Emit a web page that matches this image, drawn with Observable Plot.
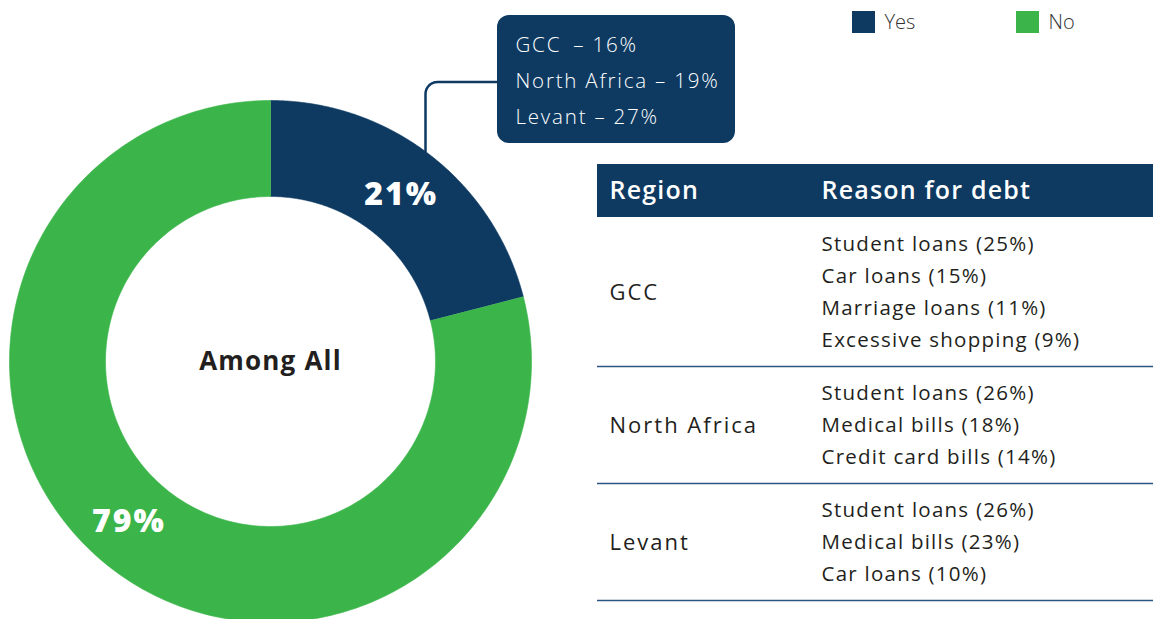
<!DOCTYPE html>
<html><head><meta charset="utf-8">
<script src="https://cdn.jsdelivr.net/npm/d3@7"></script>
<script src="https://cdn.jsdelivr.net/npm/@observablehq/plot@0.6"></script>
<style>
body{margin:0;background:#fff;}
#chart svg{display:block;}
</style>
</head><body><div id="chart"></div>
<script>
// ---- data ----
const answers = ["Yes", "No"];
const shares = [21, 79];
const centerLabel = "Among All";
const regions = ["GCC", "North Africa", "Levant"];
const regionYes = [16, 19, 27];
const gccReasons = ["Student loans", "Car loans", "Marriage loans", "Excessive shopping"];
const gccPct = [25, 15, 11, 9];
const naReasons = ["Student loans", "Medical bills", "Credit card bills"];
const naPct = [26, 18, 14];
const levantReasons = ["Student loans", "Medical bills", "Car loans"];
const levantPct = [26, 23, 10];
const tableHeaders = ["Region", "Reason for debt"];

// ---- style / layout ----
const W = 1153, H = 619;
const NAVY = "#0e3a62", GREEN = "#3bb54a";
const FONT = "'Open Sans', Lato, sans-serif";
const cx = 270, cy = 361, R = 261, r0 = 165;

// donut polygons from the pie layout
const pie = d3.pie().sort(null)(shares);
const donut = [];
pie.forEach((a, i) => {
  const n = 240;
  const outer = d3.range(n + 1).map(k => a.startAngle + (a.endAngle - a.startAngle) * k / n);
  outer.forEach(t => donut.push({answer: answers[i], x: cx + R * Math.sin(t), y: cy - R * Math.cos(t)}));
  outer.slice().reverse().forEach(t => donut.push({answer: answers[i], x: cx + r0 * Math.sin(t), y: cy - r0 * Math.cos(t)}));
});
const arcGen = d3.arc().innerRadius(r0).outerRadius(R);
const sliceLabels = pie.map((a, i) => {
  const [dx, dy] = arcGen.centroid(a);
  return {label: shares[i] + "%", x: cx + dx + (i === 1 ? -11 : 0), y: cy + dy + (i === 1 ? -8 : 2)};
});

// callout
const box = {x1: 497, x2: 735, y1: 15, y2: 143};
const callout = regions.map((g, i) => ({label: (g === "GCC" ? "GCC\u2002– " : g + " – ") + regionYes[i] + "%", x: box.x1 + 18, y: 45 + i * 36}));
const lx = 425, ly = 81.5, cr = 12;
const hitY = cy - Math.sqrt(R * R - (lx - cx) * (lx - cx));
const connector = [{x: box.x1, y: ly}];
d3.range(0, 11).forEach(k => {
  const t = Math.PI / 2 * k / 10;
  connector.push({x: lx + cr - cr * Math.sin(t), y: ly + cr - cr * Math.cos(t)});
});
connector.push({x: lx, y: hitY});

// legend
const legend = answers.map((a, i) => ({answer: a, x: 852 + i * 164, y: 22}));

// table
const tx1 = 597, tx2 = W, headTop = 164, headBot = 217;
const colX = [609, 821];
const sections = [
  {region: regions[0], names: gccReasons, pct: gccPct},
  {region: regions[1], names: naReasons, pct: naPct},
  {region: regions[2], names: levantReasons, pct: levantPct}
];
const padTop = 27, padBot = 26, lineH = 32;
const regionRows = [], reasonRows = [], seps = [];
let yCur = headBot;
sections.forEach(s => {
  const first = yCur + padTop;
  s.names.forEach((nm, j) => reasonRows.push({label: `${nm} (${s.pct[j]}%)`, y: first + j * lineH}));
  const last = first + (s.names.length - 1) * lineH;
  regionRows.push({label: s.region, y: (first + last) / 2});
  yCur = last + padBot;
  seps.push(yCur);
});
const headerCells = tableHeaders.map((h, i) => ({label: h, x: colX[i], y: (headTop + headBot) / 2}));

const spacing = {"slice-labels": 2, "center-label": 1.2, "callout": 1.8, "table-header": 1.2, "table-regions": 2, "table-reasons": 1.25};

const chart = Plot.plot({
  width: W, height: H,
  margin: 0,
  x: {domain: [0, W], range: [0, W], axis: null},
  y: {domain: [0, H], range: [0, H], axis: null},
  color: {domain: answers, range: [NAVY, GREEN]},
  style: {fontFamily: FONT, background: "#fff", overflow: "visible"},
  marks: [
    // donut
    Plot.line(donut, {x: "x", y: "y", z: "answer", fill: "answer", stroke: "answer", strokeWidth: 0.6}),
    Plot.text(sliceLabels, {x: "x", y: "y", text: "label", fill: "white", fontSize: 32, fontWeight: 800, ariaDescription: "slice-labels"}),
    Plot.text([centerLabel], {x: () => cx, y: () => cy, text: d => d, fill: "#231f20", fontSize: 26, fontWeight: 700, ariaDescription: "center-label"}),
    // connector + callout
    Plot.line(connector, {x: "x", y: "y", stroke: NAVY, strokeWidth: 2.5, curve: "linear"}),
    Plot.rect([box], {x1: "x1", x2: "x2", y1: "y1", y2: "y2", fill: NAVY, rx: 12}),
    Plot.text(callout, {x: "x", y: "y", text: "label", fill: "white", textAnchor: "start", fontSize: 20.5, fontWeight: 300, ariaDescription: "callout"}),
    // legend
    Plot.rect(legend, {x1: "x", x2: d => d.x + 23, y1: d => d.y - 11, y2: d => d.y + 11, fill: "answer"}),
    Plot.text(legend, {x: d => d.x + 32, y: "y", text: "answer", fill: "#333", textAnchor: "start", fontSize: 20, fontWeight: 300}),
    // table
    Plot.rect([{x1: tx1, x2: tx2, y1: headTop, y2: headBot}], {x1: "x1", x2: "x2", y1: "y1", y2: "y2", fill: NAVY}),
    Plot.text(headerCells, {x: "x", y: "y", text: "label", fill: "white", textAnchor: "start", fontSize: 25, fontWeight: 600, ariaDescription: "table-header"}),
    Plot.text(regionRows, {x: () => colX[0], y: "y", text: "label", fill: "#231f20", textAnchor: "start", fontSize: 22, ariaDescription: "table-regions"}),
    Plot.text(reasonRows, {x: () => colX[1], y: "y", text: "label", fill: "#231f20", textAnchor: "start", fontSize: 20.5, ariaDescription: "table-reasons"}),
    Plot.ruleY(seps, {x1: tx1, x2: tx2, stroke: "#2a5580", strokeWidth: 1.6})
  ]
});
Object.entries(spacing).forEach(([k, v]) => {
  d3.select(chart).selectAll(`[aria-description="${k}"]`).style("letter-spacing", v + "px");
});
document.getElementById("chart").appendChild(chart);
</script>
</body></html>
